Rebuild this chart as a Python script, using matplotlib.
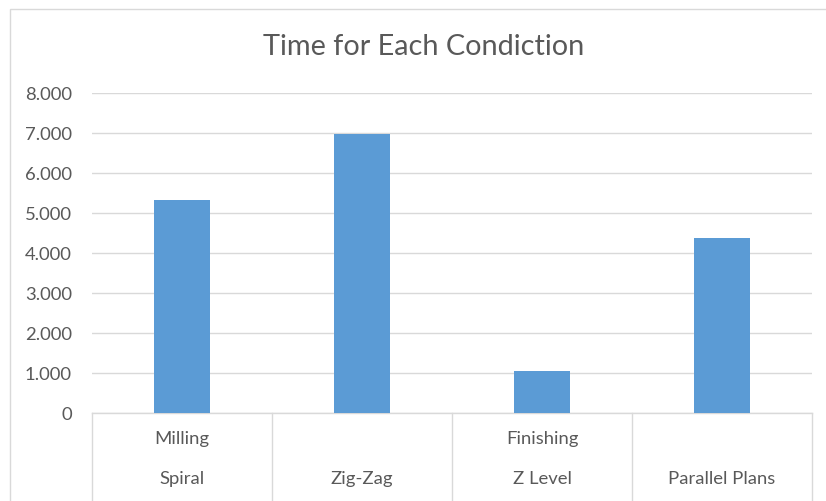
import matplotlib.pyplot as plt
import matplotlib.transforms as mtransforms

methods = ['Spiral', 'Zig-Zag', 'Z Level', 'Parallel Plans']
groups = ['Milling', '', 'Finishing', '']
times = [5.32, 6.97, 1.04, 4.37]
yticks = [0, 1, 2, 3, 4, 5, 6, 7, 8]
ylabels = ['0', '1.000', '2.000', '3.000', '4.000', '5.000', '6.000', '7.000', '8.000']

W, H = 826, 501
plt.rcParams['font.family'] = ['Lato', 'DejaVu Sans']
txt = '#595959'
grid = '#d9d9d9'
fs = 13.3

fig = plt.figure(figsize=(W / 100, H / 100), dpi=100)
ax = fig.add_axes([92 / W, 1 - 413 / H, (812 - 92) / W, (413 - 93) / H])

x = range(len(methods))
ax.bar(x, times, width=0.31, color='#5b9bd5', zorder=3)
ax.set_xlim(-0.5, len(methods) - 0.5)
ax.set_ylim(0, 8)
ax.set_yticks(yticks)
ax.set_yticklabels(ylabels, color=txt, fontsize=fs)
ax.tick_params(axis='y', length=0, pad=14.5)
ax.set_xticks([])
ax.grid(axis='y', color=grid, linewidth=1, zorder=0)
for s in ax.spines.values():
    s.set_visible(False)

# multi-level category table under the axis
tr = mtransforms.blended_transform_factory(ax.transData, fig.transFigure)
ax.plot([-0.5, len(methods) - 0.5], [1 - 413 / H] * 2, color=grid, lw=1,
        transform=tr, clip_on=False)
for b in range(len(methods) + 1):
    ax.plot([b - 0.5] * 2, [1 - 413 / H, 0], color=grid, lw=1,
            transform=tr, clip_on=False)
for i, (g, m) in enumerate(zip(groups, methods)):
    fig.text(i, 1 - 439 / H, g, transform=tr, ha='center', va='center',
             color=txt, fontsize=fs)
    fig.text(i, 1 - 479 / H, m, transform=tr, ha='center', va='center',
             color=txt, fontsize=fs)

fig.text(424 / W, 1 - 47 / H, 'Time for Each Condiction', ha='center', va='center',
         color=txt, fontsize=20.8)

# chart area border
fig.add_artist(plt.Rectangle((10 / W, -0.01), 1, 1 - 9 / H + 0.01, transform=fig.transFigure,
                             fill=False, edgecolor=grid, lw=1))

fig.savefig('out.png', dpi=100)
